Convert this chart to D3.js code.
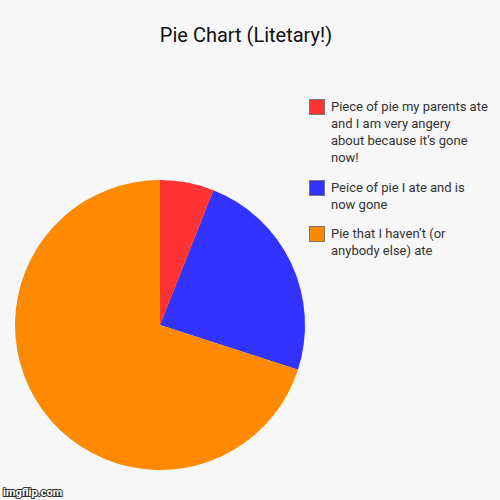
<!DOCTYPE html>
<html><head><meta charset="utf-8">
<script src="https://cdn.jsdelivr.net/npm/d3@7"></script>
<style>body{margin:0;background:#f7f7f7}svg{display:block}</style>
</head><body>
<script>
const title = "Pie Chart (Litetary!)";
const categories = [
  ["Piece of pie my parents ate","and I am very angery","about because it\u2019s gone","now!"],
  ["Peice of pie I ate and is","now gone"],
  ["Pie that I haven\u2019t (or","anybody else) ate"]
];
const values = [6, 24, 70];
const colors = ["#ff3333", "#3333ff", "#ff8a00"];

const svg = d3.select("body").append("svg").attr("width",500).attr("height",500);
svg.append("rect").attr("width",500).attr("height",500).attr("fill","#f7f7f7");
svg.append("text").attr("x",246).attr("y",42).attr("text-anchor","middle")
  .attr("font-family","Roboto").attr("font-size",20).attr("fill","#111").text(title);

const pie = d3.pie().sort(null).value(d=>d)(values);
const arc = d3.arc().innerRadius(0).outerRadius(145);
const g = svg.append("g").attr("transform","translate(160,325)");
g.selectAll("path").data(pie).join("path").attr("d",arc).attr("fill",(d,i)=>colors[i]);

const starts = [99, 180, 226];
const lg = svg.append("g").attr("font-family","Roboto").attr("font-size",13).attr("fill","#333");
categories.forEach((lines,i)=>{
  lg.append("rect").attr("x",309.5).attr("y",starts[i]+0.5).attr("width",15).attr("height",15)
    .attr("fill",colors[i]).attr("stroke","#777").attr("stroke-width",1);
  lines.forEach((t,j)=>lg.append("text").attr("x",331).attr("y",starts[i]+12+j*17).text(t));
});
svg.append("text").attr("x",3).attr("y",496).attr("font-family","Roboto").attr("font-size",11)
  .attr("font-weight","bold").attr("fill","#fff").attr("stroke","#333").attr("stroke-width",2)
  .attr("paint-order","stroke").text("imgflip.com");
</script>
</body></html>
